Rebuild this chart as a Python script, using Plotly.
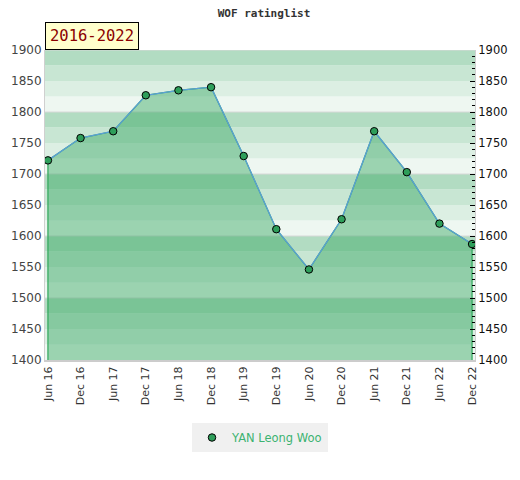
import plotly.graph_objects as go

periods = ["Jun 16", "Dec 16", "Jun 17", "Dec 17", "Jun 18", "Dec 18", "Jun 19",
           "Dec 19", "Jun 20", "Dec 20", "Jun 21", "Dec 21", "Jun 22", "Dec 22"]
ratings = [1722, 1758, 1769, 1827, 1835, 1840, 1729,
           1611, 1546, 1627, 1769, 1703, 1620, 1587]
player = "YAN Leong Woo"
title = "WOF ratinglist"
span_label = "2016-2022"
y_min, y_max = 1400, 1900

idx = list(range(len(periods)))

fig = go.Figure()

# background bands (4 shades per 100 points)
band_colors = ["#eef7f1", "#dcefe3", "#c8e6d3", "#b2dcc2"]  # bottom -> top inside each 100
shapes = []
for base in range(y_min, y_max, 100):
    for k in range(4):
        shapes.append(dict(type="rect", xref="paper", yref="y", x0=0, x1=1,
                           y0=base + 25 * k, y1=base + 25 * (k + 1),
                           fillcolor=band_colors[k], line=dict(width=0), layer="below"))
for g in range(y_min + 100, y_max + 1, 100):
    shapes.append(dict(type="line", xref="paper", yref="y", x0=0, x1=1, y0=g, y1=g,
                       line=dict(color="#d8d8d8", width=1), layer="below"))

# filled area polygon down to axis minimum
poly_x = [idx[0]] + idx + [idx[-1]]
poly_y = [y_min] + ratings + [y_min]
fig.add_trace(go.Scatter(x=poly_x, y=poly_y, mode="lines", fill="toself",
                         fillcolor="rgba(54,167,97,0.45)",
                         line=dict(color="#2fa85a", width=1.2),
                         hoverinfo="skip", showlegend=False))
fig.add_trace(go.Scatter(x=idx, y=ratings, mode="lines",
                         line=dict(color="#5b9fd6", width=1.3),
                         showlegend=False, hoverinfo="skip"))
fig.add_trace(go.Scatter(x=idx, y=ratings, mode="markers", name=player,
                         marker=dict(color="#2e9e5a", size=7.5,
                                     line=dict(color="black", width=1))))
# invisible trace for right axis
fig.add_trace(go.Scatter(x=idx, y=ratings, yaxis="y2", mode="markers",
                         marker=dict(opacity=0), showlegend=False, hoverinfo="skip"))

W, H = 512, 472  # page body adds an 8px offset inside the 520x480 window

fig.update_layout(
    width=W, height=H,
    margin=dict(l=37, r=45, t=42, b=120, autoexpand=False),
    paper_bgcolor="white", plot_bgcolor="white",
    shapes=shapes,
    title=dict(text="<b>" + title + "</b>", x=0.5, xanchor="center",
               yref="container", y=1 - 5 / H, yanchor="middle",
               font=dict(family="DejaVu Sans Mono", size=11, color="#333333")),
    xaxis=dict(range=[-0.09, len(periods) - 1 + 0.09], tickmode="array", tickvals=idx,
               ticktext=periods, tickangle=-90, showgrid=False, zeroline=False,
               showline=True, linecolor="#cccccc", linewidth=2, mirror=False,
               automargin=False,
               ticks="", tickfont=dict(family="DejaVu Sans", size=11, color="#333333")),
    yaxis=dict(range=[y_min, y_max], dtick=50, showgrid=False, zeroline=False,
               showline=True, linecolor="#d0d0d0", linewidth=1, ticks="", automargin=False,
               tickfont=dict(family="DejaVu Sans", size=12, color="#444444")),
    yaxis2=dict(range=[y_min, y_max], dtick=50, overlaying="y", side="right",
                showgrid=False, zeroline=False, showline=True, linecolor="#d0d0d0",
                linewidth=1, ticks="inside", ticklen=5, tickcolor="black", automargin=False,
                minor=dict(dtick=10, ticks="inside", ticklen=3, tickcolor="black", showgrid=False),
                tickfont=dict(family="DejaVu Sans", size=11.5, color="#111111")),
    legend=dict(orientation="h", x=0.5, xanchor="center", y=-0.25, yanchor="middle",
                bgcolor="#f0f0f0", font=dict(family="DejaVu Sans", size=11.5, color="#3cb371")),
    annotations=[dict(text=span_label, xref="paper", yref="paper", x=0, y=1,
                      xanchor="left", yanchor="bottom", showarrow=False,
                      font=dict(family="DejaVu Sans Mono", size=15.5, color="#8b0000"),
                      bgcolor="#ffffcc", bordercolor="black", borderwidth=1, borderpad=4)],
)

fig.write_html("out.html")
